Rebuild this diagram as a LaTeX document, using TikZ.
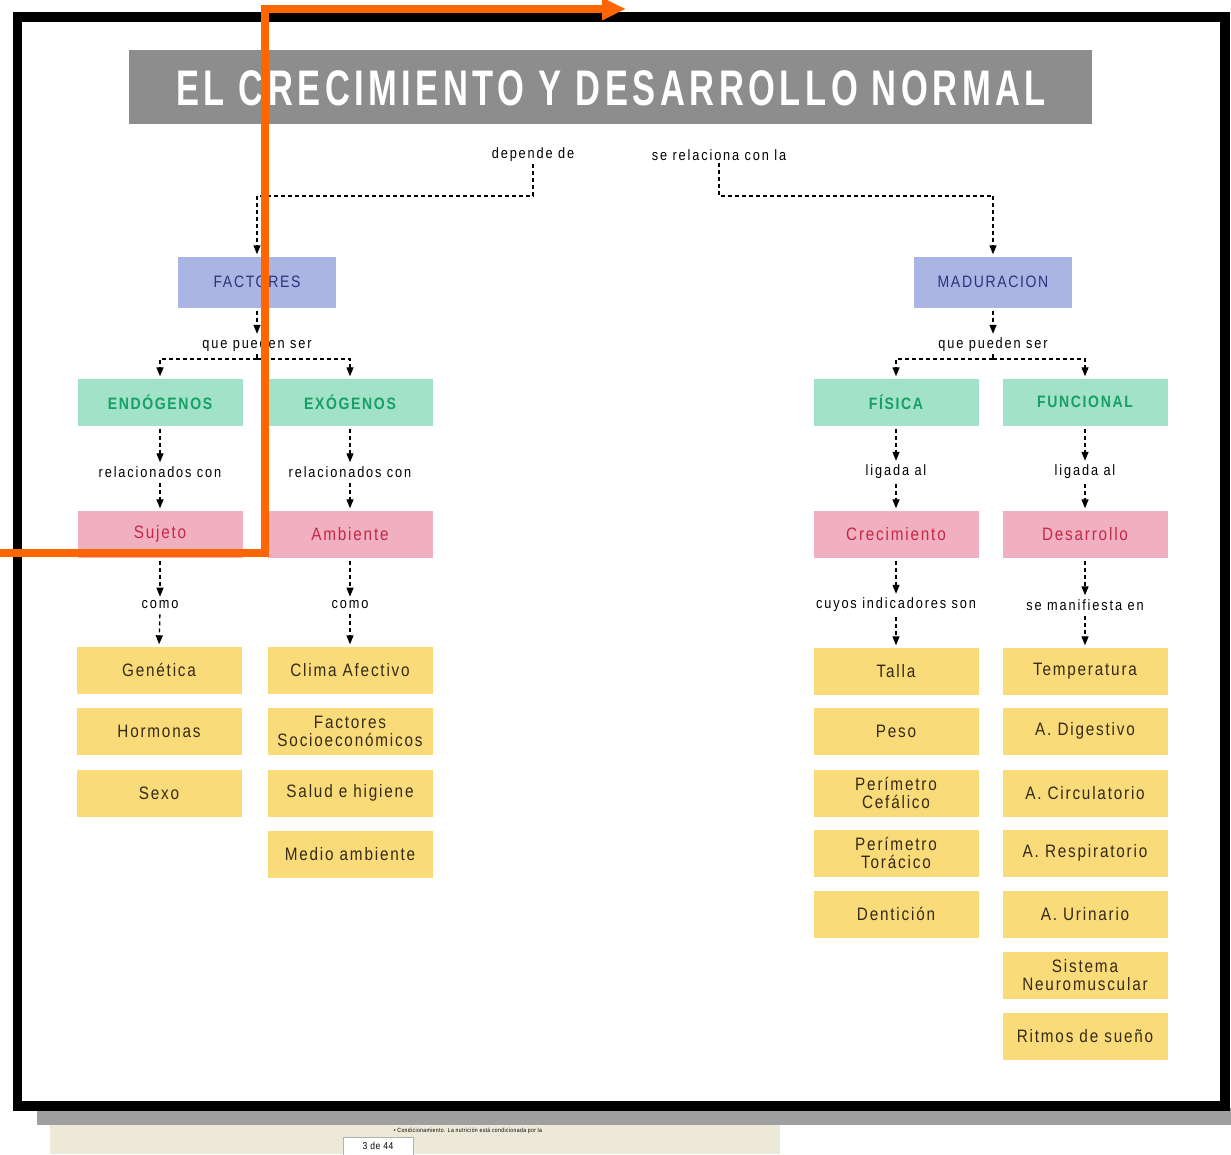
\documentclass[tikz,border=0pt]{standalone}
\usepackage{fontspec}
\setmainfont{Liberation Sans}[FakeStretch=0.85,LetterSpace=6]
\newfontfamily\titlefont{Liberation Sans}[FakeStretch=0.69,LetterSpace=9]
\newfontfamily\cajafont{Liberation Sans}[FakeStretch=0.85,LetterSpace=10]
\newfontfamily\etiqfont{Liberation Sans}[FakeStretch=0.85,LetterSpace=12.5]
\usetikzlibrary{arrows.meta}

\definecolor{barGray}{RGB}{141,141,141}
\definecolor{fillBlue}{RGB}{170,181,228}
\definecolor{textBlue}{RGB}{42,52,122}
\definecolor{fillGreen}{RGB}{162,226,200}
\definecolor{textGreen}{RGB}{22,160,100}
\definecolor{fillPink}{RGB}{241,176,192}
\definecolor{textPink}{RGB}{196,40,72}
\definecolor{fillYellow}{RGB}{250,219,122}
\definecolor{textYellow}{RGB}{52,42,22}
\definecolor{markOrange}{RGB}{255,102,0}
\definecolor{toolBeige}{RGB}{236,233,216}

\begin{document}
\begin{tikzpicture}[x=1pt, y=-1pt,
  box/.style={minimum width=165pt, minimum height=47pt, inner sep=0pt, align=center,
    font=\cajafont\fontsize{18}{18}\selectfont},
  azul/.style={box, fill=fillBlue, text=textBlue, minimum width=158pt, minimum height=51pt,
    font=\cajafont\fontsize{16.5}{17}\selectfont},
  verde/.style={box, fill=fillGreen, text=textGreen, font=\cajafont\fontsize{16.5}{17}\selectfont\bfseries},
  rosa/.style={box, fill=fillPink, text=textPink},
  amarillo/.style={box, fill=fillYellow, text=textYellow},
  etiqueta/.style={inner sep=2pt, font=\etiqfont\fontsize{15}{15}\selectfont},
  flecha/.style={dash pattern=on 4pt off 3pt, line width=1.3pt,
    -{Triangle[length=9pt,width=7pt]}, shorten <=3pt, shorten >=2pt},
  linea/.style={dash pattern=on 4pt off 3pt, line width=1.3pt}]
\useasboundingbox (0,0) rectangle (1231,1154);

% Window frame and screen leftovers
\fill[gray!75] (37,1108) rectangle (1231,1125);
\fill[toolBeige] (50,1125) rectangle (780,1154);
\node[draw=gray!60, fill=white, minimum width=70pt, minimum height=18pt, inner sep=0pt,
  font=\fontsize{10}{10}\selectfont] (pag) at (378,1146) {3 de 44};
\node[font=\fontsize{6}{6}\selectfont] (pie) at (468,1131) {• Condicionamiento. La nutrición está condicionada por la};
\draw[line width=9.5pt] (17.5,17) rectangle (1225,1106);

% Title bar
\fill[barGray] (129,50) rectangle (1092,124);
\node[text=white, font=\titlefont\bfseries\fontsize{50}{50}\selectfont] (titulo) at (611,88)
  {EL CRECIMIENTO Y DESARROLLO NORMAL};

% Top links
\node[etiqueta] (dep) at (533,155) {depende de};
\node[etiqueta] (rel) at (719,155) {se relaciona con la};
\node[azul] (fac) at (257,282) {FACTORES};
\node[azul] (mad) at (993,282) {MADURACION};
\coordinate (dl) at (257,196);
\coordinate (dr) at (993,196);
\draw[linea] (dep.south) |- (dl);
\draw[flecha, shorten <=0pt] (dl) -- (fac.north);
\draw[linea] (rel.south) |- (dr);
\draw[flecha, shorten <=0pt] (dr) -- (mad.north);

% Second level
\node[etiqueta] (qp1) at (257,345) {que pueden ser};
\node[etiqueta] (qp2) at (993,345) {que pueden ser};
\draw[flecha] (fac.south) -- (qp1.north);
\draw[flecha] (mad.south) -- (qp2.north);
\node[verde] (endo) at (160,402) {ENDÓGENOS};
\node[verde] (exo) at (350,402) {EXÓGENOS};
\node[verde] (fis) at (896,402) {FÍSICA};
\node[verde] (fun) at (1085,402) {FUNCIONAL};
\coordinate (fl) at (257,359);
\coordinate (fr) at (993,359);
\draw[linea] (qp1.south) -- (fl);
\draw[linea] (qp2.south) -- (fr);
\foreach \a/\b in {fl/endo, fl/exo, fr/fis, fr/fun}
  \draw[flecha, shorten <=0pt] (\a) -| (\b.north);

% Third level
\foreach \n/\x/\t in {l1/160/relacionados con, l2/350/relacionados con, l3/896/ligada al, l4/1085/ligada al}
  \node[etiqueta] (\n) at (\x,472) {\t};
\node[rosa] (suj) at (160,534) {Sujeto};
\node[rosa] (amb) at (350,534) {Ambiente};
\node[rosa] (cre) at (896,534) {Crecimiento};
\node[rosa] (des) at (1085,534) {Desarrollo};
\foreach \a/\l/\b in {endo/l1/suj, exo/l2/amb, fis/l3/cre, fun/l4/des} {
  \draw[flecha] (\a.south) -- (\l.north);
  \draw[flecha] (\l.south) -- (\b.north);
}

% Fourth level
\node[etiqueta] (c1) at (160,605) {como};
\node[etiqueta] (c2) at (350,605) {como};
\node[etiqueta] (c3) at (896,605) {cuyos indicadores son};
\node[etiqueta] (c4) at (1085,605) {se manifiesta en};

% Leaf boxes
\foreach \n/\y/\t in {gen/670/Genética, hor/731/Hormonas, sex/793/Sexo}
  \node[amarillo] (\n) at (159,\y) {\t};
\foreach \n/\y/\t in {cli/670/Clima Afectivo, soc/731/{Factores\\Socioeconómicos},
    sal/793/Salud e higiene, med/854/Medio ambiente}
  \node[amarillo] (\n) at (350,\y) {\t};
\foreach \n/\y/\t in {tal/671/Talla, pes/731/Peso, cef/793/{Perímetro\\Cefálico},
    tor/853/{Perímetro\\Torácico}, den/914/Dentición}
  \node[amarillo] (\n) at (896,\y) {\t};
\foreach \n/\y/\t in {tem/671/Temperatura, dig/731/A. Digestivo, cir/793/A. Circulatorio,
    res/853/A. Respiratorio, uri/914/A. Urinario, neu/975/{Sistema\\Neuromuscular},
    rit/1036/Ritmos de sueño}
  \node[amarillo] (\n) at (1085,\y) {\t};
\foreach \a/\l/\b in {suj/c1/gen, amb/c2/cli, cre/c3/tal, des/c4/tem} {
  \draw[flecha] (\a.south) -- (\l.north);
  \draw[flecha] (\l.south) -- (\b.north);
}

% Orange marker
\draw[markOrange, line width=8pt, -{Triangle[length=24pt,width=21pt]}]
  (0,553) -- (264.5,553) -- (264.5,9) -- (626,9);

\end{tikzpicture}
\end{document}
